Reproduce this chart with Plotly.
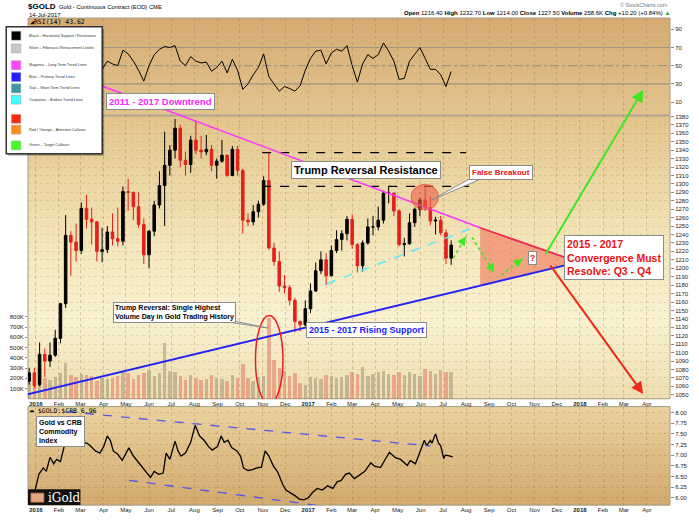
import plotly.graph_objects as go
import pandas as pd

# ---------------- data (weekly) ----------------
week_dates = pd.date_range("2015-12-23", periods=82, freq="7D")

price_open = [1066, 1076, 1062, 1098, 1090, 1097, 1117, 1158, 1239, 1231,
              1221, 1271, 1258, 1255, 1220, 1222, 1243, 1235, 1232, 1291,
              1290, 1273, 1252, 1216, 1244, 1275, 1298, 1322, 1340, 1366,
              1328, 1323, 1352, 1340, 1338, 1341, 1322, 1327, 1334, 1310,
              1341, 1316, 1257, 1255, 1267, 1276, 1304, 1224, 1208, 1179,
              1177, 1162, 1137, 1133, 1152, 1173, 1197, 1210, 1191, 1221,
              1234, 1241, 1258, 1228, 1203, 1230, 1249, 1249, 1257, 1289,
              1289, 1268, 1228, 1229, 1254, 1270, 1281, 1272, 1256, 1257,
              1242, 1212]
price_high = [1082, 1082, 1112, 1105, 1112, 1127, 1159, 1263, 1244, 1253,
              1278, 1287, 1272, 1256, 1248, 1250, 1265, 1272, 1297, 1306,
              1291, 1290, 1259, 1245, 1280, 1315, 1362, 1346, 1377, 1370,
              1338, 1357, 1375, 1357, 1358, 1346, 1330, 1352, 1335, 1345,
              1345, 1318, 1265, 1275, 1280, 1309, 1338, 1230, 1220, 1192,
              1180, 1165, 1138, 1162, 1182, 1207, 1220, 1218, 1227, 1245,
              1245, 1262, 1264, 1230, 1233, 1259, 1262, 1273, 1292, 1297,
              1290, 1270, 1236, 1265, 1272, 1284, 1298, 1285, 1261, 1262,
              1246, 1233]
price_low = [1062, 1058, 1060, 1071, 1083, 1095, 1111, 1153, 1191, 1208,
             1217, 1247, 1228, 1208, 1207, 1218, 1227, 1226, 1227, 1268,
             1257, 1248, 1205, 1200, 1238, 1271, 1250, 1310, 1330, 1320,
             1310, 1313, 1335, 1330, 1334, 1315, 1306, 1325, 1308, 1309,
             1310, 1241, 1250, 1251, 1260, 1274, 1222, 1203, 1172, 1170,
             1156, 1124, 1125, 1131, 1147, 1172, 1193, 1180, 1191, 1218,
             1221, 1233, 1223, 1195, 1196, 1228, 1239, 1245, 1253, 1277,
             1262, 1226, 1214, 1228, 1249, 1262, 1268, 1251, 1240, 1239,
             1205, 1204]
price_close = [1076, 1061, 1098, 1090, 1097, 1117, 1158, 1239, 1231, 1221,
               1271, 1258, 1255, 1220, 1222, 1243, 1235, 1232, 1291, 1290,
               1273, 1252, 1216, 1244, 1275, 1298, 1322, 1340, 1366, 1328,
               1323, 1352, 1340, 1338, 1341, 1322, 1327, 1334, 1310, 1341,
               1316, 1257, 1255, 1267, 1276, 1304, 1224, 1208, 1179, 1177,
               1162, 1137, 1133, 1152, 1173, 1197, 1210, 1191, 1221, 1234,
               1241, 1258, 1228, 1203, 1230, 1249, 1249, 1257, 1289, 1289,
               1268, 1228, 1229, 1254, 1270, 1281, 1272, 1256, 1257, 1242,
               1212, 1227.5]
rsi14 = [45, 38, 62, 55, 58, 63, 72, 80, 64, 57,
         66, 62, 58, 44, 46, 55, 52, 50, 67, 63,
         55, 45, 33, 50, 62, 68, 71, 70, 72, 55,
         50, 60, 55, 53, 54, 44, 48, 55, 42, 57,
         45, 24, 30, 40, 48, 63, 38, 30, 22, 27,
         25, 22, 28, 45, 58, 66, 67, 52, 64, 68,
         66, 72, 50, 32, 52, 62, 58, 62, 75, 66,
         55, 35, 36, 55, 62, 70, 58, 46, 46, 40,
         27, 43.62]
volume_k = [150, 120, 220, 200, 180, 210, 250, 350, 230, 210,
            240, 230, 220, 170, 200, 190, 200, 220, 260, 250,
            190, 230, 250, 280, 220, 250, 540, 270, 260, 220,
            180, 230, 200, 180, 190, 230, 200, 190, 170, 230,
            200, 340, 200, 170, 210, 220, 790, 380, 300, 270,
            220, 250, 150, 130, 210, 200, 190, 230, 220, 200,
            210, 230, 260, 240, 310, 220, 240, 260, 270, 240,
            230, 260, 230, 260, 240, 220, 290, 270, 240, 280,
            260, 259]

ratio_dates = ["2015-12-31", "2016-01-05", "2016-01-11", "2016-01-15", "2016-01-20",
               "2016-01-25", "2016-01-29", "2016-02-03", "2016-02-08", "2016-02-11",
               "2016-02-17", "2016-02-25", "2016-03-04", "2016-03-10", "2016-03-14",
               "2016-03-21", "2016-03-27", "2016-04-01", "2016-04-06", "2016-04-10",
               "2016-04-14", "2016-04-20", "2016-04-26", "2016-05-01", "2016-05-05",
               "2016-05-11", "2016-05-18", "2016-05-24", "2016-05-30", "2016-06-03",
               "2016-06-08", "2016-06-14", "2016-06-20", "2016-06-24", "2016-06-29",
               "2016-07-06", "2016-07-10", "2016-07-14", "2016-07-20", "2016-07-27",
               "2016-08-02", "2016-08-08", "2016-08-14", "2016-08-20", "2016-08-25",
               "2016-09-01", "2016-09-06", "2016-09-10", "2016-09-15", "2016-09-20",
               "2016-09-27", "2016-10-02", "2016-10-06", "2016-10-12", "2016-10-18",
               "2016-10-24", "2016-10-30", "2016-11-04", "2016-11-09", "2016-11-15",
               "2016-11-21", "2016-11-28", "2016-12-02", "2016-12-08", "2016-12-14",
               "2016-12-20", "2016-12-26", "2017-01-01", "2017-01-07", "2017-01-13",
               "2017-01-20", "2017-01-27", "2017-02-03", "2017-02-09", "2017-02-14",
               "2017-02-20", "2017-02-25", "2017-03-04", "2017-03-10", "2017-03-18",
               "2017-03-26", "2017-03-31", "2017-04-08", "2017-04-14", "2017-04-20",
               "2017-04-28", "2017-05-05", "2017-05-14", "2017-05-18", "2017-05-25",
               "2017-05-29", "2017-06-06", "2017-06-09", "2017-06-14", "2017-06-16",
               "2017-06-21", "2017-06-25", "2017-06-28", "2017-07-02", "2017-07-04",
               "2017-07-08", "2017-07-14"]
ratio_vals = [6.18, 6.55, 6.70, 6.62, 6.95,
              6.80, 6.90, 6.85, 7.20, 7.55,
              7.35, 7.40, 7.30, 7.28, 7.22,
              7.10, 7.05, 7.20, 7.45, 7.35,
              7.10, 7.02, 6.88, 7.05, 7.17,
              6.98, 6.82, 6.70, 6.55, 6.48,
              6.62, 6.55, 6.58, 7.05, 6.90,
              7.33, 7.10, 6.98, 7.05, 7.30,
              7.70, 7.45, 7.35, 7.20, 7.12,
              7.20, 7.45, 7.30, 7.35, 7.18,
              7.10, 6.98, 6.70, 6.64, 6.66,
              6.70, 6.72, 7.10, 6.98, 6.75,
              6.60, 6.30, 6.18, 6.12, 6.05,
              5.97, 5.95, 6.00, 6.13, 6.22,
              6.18, 6.28, 6.22, 6.38, 6.40,
              6.55, 6.58, 6.45, 6.52, 6.62,
              6.82, 6.74, 6.71, 6.88, 7.07,
              6.94, 6.90, 6.76, 6.87, 6.80,
              6.99, 7.35, 7.22, 7.35, 7.28,
              7.50, 7.28, 7.22, 6.92, 7.00,
              6.99, 6.96]

# ticks
month_ticks = pd.date_range("2016-01-01", "2018-04-01", freq="MS")
month_labels = [("<b>%d</b>" % d.year) if d.month == 1 else d.strftime("%b") for d in month_ticks]
price_ticks = list(range(1050, 1390, 10))
rsi_ticks = [10, 30, 50, 70, 90]
ratio_ticks = [6.00, 6.25, 6.50, 6.75, 7.00, 7.25, 7.50, 7.75, 8.00]
vol_ticks = [100000, 200000, 300000, 400000, 500000, 600000, 700000, 800000]
vol_labels = ["100K", "200K", "300K", "400K", "500K", "600K", "700K", "800K"]

# drawn trend lines / callouts (data coordinates)
downtrend_dates = ["2016-03-30", "2017-08-20"]
downtrend_prices = [1416, 1248]
apex_date, apex_price = "2017-12-30", 1207.3
support_dates = ["2015-12-01", "2017-12-30"]
support_prices = [1046.3, 1207.3]
triangle_dates = ["2017-08-20", "2017-12-30", "2017-08-20", "2017-08-20"]
triangle_prices = [1248, 1207.3, 1179.3, 1248]
broken_dates = ["2017-01-26", "2017-08-14"]
broken_prices = [1181.6, 1249.3]
resist_hi_dates, resist_hi = ["2016-10-31", "2017-08-01"], 1337
resist_lo_dates, resist_lo = ["2016-10-31", "2017-08-10"], 1297
breakout_dates, breakout_prices = ["2017-05-19", "2017-06-25"], [1269.2, 1299.5]
volspike_dates, volspike_prices = ["2016-10-22", "2016-11-28"], [1039, 1144]
small_arrows = [(("2017-07-15", 1212.3), ("2017-08-01", 1237.6)),
                (("2017-08-09", 1236.8), ("2017-09-08", 1195.0)),
                (("2017-09-17", 1191.8), ("2017-10-16", 1211.2))]
bull_arrow = (("2017-11-15", 1215.5), ("2018-03-27", 1411.5))
bear_arrow = (("2017-11-21", 1205.0), ("2018-03-27", 1051.0))
ratio_upper_dates, ratio_upper = ["2016-02-12", "2017-06-14"], [8.02, 7.215]
ratio_lower_dates, ratio_lower = ["2016-05-05", "2017-04-09"], [6.41, 5.62]

# ---------------- layout helpers ----------------
W, H = 699, 523
ML, MR, MT, MB = 25, 25, 18, 10
PW, PH = W - ML - MR, H - MT - MB
FONT = "Liberation Sans, Arial, sans-serif"


def px(x):
    return (x - ML) / PW


def py(y):
    return (MT + PH - y) / PH


fig = go.Figure()

# volume (behind price)
vol_colors = ["rgba(160,148,118,0.55)" if c >= o else "rgba(228,118,98,0.55)"
              for o, c in zip(price_open, price_close)]
fig.add_trace(go.Bar(x=week_dates, y=[v * 1000 for v in volume_k], marker_color=vol_colors,
                     marker_line_width=0, width=4.6 * 86400000, xaxis="x", yaxis="y"))

# price candles
fig.add_trace(go.Candlestick(x=week_dates, open=price_open, high=price_high, low=price_low,
                             close=price_close, xaxis="x", yaxis="y2", whiskerwidth=0,
                             increasing=dict(line=dict(color="black", width=1), fillcolor="black"),
                             decreasing=dict(line=dict(color="#e3201b", width=1), fillcolor="#e3201b")))

# convergence triangle
fig.add_trace(go.Scatter(x=triangle_dates, y=triangle_prices, mode="lines", fill="toself",
                         fillcolor="rgba(240,105,80,0.55)", line=dict(width=0),
                         xaxis="x", yaxis="y2", hoverinfo="skip"))

# RSI
fig.add_trace(go.Scatter(x=week_dates, y=rsi14, mode="lines", line=dict(color="black", width=1),
                         xaxis="x2", yaxis="y3"))

# Gold : CRB ratio
fig.add_trace(go.Scatter(x=ratio_dates, y=ratio_vals, mode="lines", line=dict(color="black", width=1.3),
                         xaxis="x3", yaxis="y4"))

# ---------------- backgrounds ----------------


def hex2rgb(h):
    h = h.lstrip("#")
    return tuple(int(h[i:i + 2], 16) for i in (0, 2, 4))


def gradient(y_top, y_bot, stops, n=36):
    for i in range(n):
        f = (i + 0.5) / n
        for (f0, c0), (f1, c1) in zip(stops[:-1], stops[1:]):
            if f0 <= f <= f1:
                t = (f - f0) / (f1 - f0) if f1 > f0 else 0
                a, b = hex2rgb(c0), hex2rgb(c1)
                col = "rgb(%d,%d,%d)" % tuple(round(a[k] + (b[k] - a[k]) * t) for k in range(3))
                break
        ya = y_top + (y_bot - y_top) * i / n
        yb = y_top + (y_bot - y_top) * (i + 1) / n + 0.6
        fig.add_shape(type="rect", xref="paper", yref="paper", x0=0, x1=1, y0=py(yb), y1=py(ya),
                      fillcolor=col, line_width=0, layer="below")


gradient(18, 117, [(0, "#d5ab72"), (1, "#e3c48d")])
gradient(117, 405, [(0, "#e2c48b"), (0.45, "#f4e6ba"), (0.72, "#f9f1d0"), (1, "#efdeb0")])
gradient(413, 513, [(0, "#ead29e"), (1, "#d2a96d")])

# panel borders
for (yt, yb) in [(18, 117), (117, 405), (413, 513)]:
    fig.add_shape(type="rect", xref="paper", yref="paper", x0=0, x1=1, y0=py(yb), y1=py(yt),
                  line=dict(color="#a59d88", width=1), layer="below")
fig.add_shape(type="line", xref="paper", yref="paper", x0=0, x1=1, y0=py(117), y1=py(117),
              line=dict(color="#b3ab98", width=2), layer="below")

# RSI levels
for lvl, dash in [(70, "solid"), (30, "solid"), (50, "dashdot")]:
    fig.add_shape(type="line", xref="paper", yref="y3", x0=0, x1=1, y0=lvl, y1=lvl,
                  line=dict(color="#a09682", width=1.2, dash=dash), layer="below")

# ---------------- trend lines & callouts ----------------
fig.add_shape(type="line", xref="x", yref="y2", x0=resist_hi_dates[0], x1=resist_hi_dates[1],
              y0=resist_hi, y1=resist_hi, line=dict(color="black", width=1.2, dash="dash"))
fig.add_shape(type="line", xref="x", yref="y2", x0=resist_lo_dates[0], x1=resist_lo_dates[1],
              y0=resist_lo, y1=resist_lo, line=dict(color="black", width=1.2, dash="dash"))
fig.add_shape(type="line", xref="x", yref="y2", x0=downtrend_dates[0], x1=downtrend_dates[1],
              y0=downtrend_prices[0], y1=downtrend_prices[1], line=dict(color="#ff33ff", width=1.6))
fig.add_shape(type="line", xref="x", yref="y2", x0=downtrend_dates[1], x1=apex_date,
              y0=downtrend_prices[1], y1=apex_price, line=dict(color="#ec2a52", width=1.8))
fig.add_shape(type="line", xref="x", yref="y2", x0=support_dates[0], x1=support_dates[1],
              y0=support_prices[0], y1=support_prices[1], line=dict(color="#2323f5", width=2))
fig.add_shape(type="line", xref="x", yref="y2", x0=broken_dates[0], x1=broken_dates[1],
              y0=broken_prices[0], y1=broken_prices[1], line=dict(color="#55ecff", width=1.5, dash="dash"))
fig.add_shape(type="circle", xref="x", yref="y2", x0=breakout_dates[0], x1=breakout_dates[1],
              y0=breakout_prices[0], y1=breakout_prices[1], fillcolor="rgba(236,92,70,0.6)",
              line=dict(color="rgba(230,80,60,0.7)", width=1))
fig.add_shape(type="circle", xref="x", yref="y2", x0=volspike_dates[0], x1=volspike_dates[1],
              y0=volspike_prices[0], y1=volspike_prices[1], line=dict(color="#ee1c1c", width=1.5))

# ratio channel lines
fig.add_shape(type="line", xref="x3", yref="y4", x0=ratio_upper_dates[0], x1=ratio_upper_dates[1],
              y0=ratio_upper[0], y1=ratio_upper[1], line=dict(color="#5555ee", width=1.3, dash="dash"))
fig.add_shape(type="line", xref="x3", yref="y4", x0=ratio_lower_dates[0], x1=ratio_lower_dates[1],
              y0=ratio_lower[0], y1=ratio_lower[1], line=dict(color="#5555ee", width=1.3, dash="dash"))

GREEN = "#3fe81e"
for (d0, p0), (d1, p1) in small_arrows:
    fig.add_shape(type="line", xref="x", yref="y2", x0=d0, x1=d1, y0=p0, y1=p1,
                  line=dict(color=GREEN, width=1.6, dash="dot"))
    t0, t1 = pd.Timestamp(d0), pd.Timestamp(d1)
    tail_d = t1 - (t1 - t0) * 0.3
    tail_p = p1 - (p1 - p0) * 0.3
    fig.add_annotation(x=d1, y=p1, ax=tail_d.strftime("%Y-%m-%d"), ay=tail_p, xref="x", yref="y2",
                       axref="x", ayref="y2", showarrow=True, arrowhead=2, arrowsize=1.1,
                       arrowwidth=1.6, arrowcolor=GREEN, text="")

for ((d0, p0), (d1, p1)), col in [(bull_arrow, GREEN), (bear_arrow, "#ee2a1a")]:
    fig.add_annotation(x=d1, y=p1, ax=d0, ay=p0, xref="x", yref="y2", axref="x", ayref="y2",
                       showarrow=True, arrowhead=2, arrowsize=1.2, arrowwidth=2, arrowcolor=col, text="")


def path(points):
    s = "M " + " L ".join("%f,%f" % (px(x), py(y)) for x, y in points) + " Z"
    return s


# speech-bubble pointers
fig.add_shape(type="path", xref="paper", yref="paper", path=path([(214, 325), (267, 333), (228, 325)]),
              fillcolor="white", line=dict(color="#8c8c8c", width=1))
fig.add_shape(type="path", xref="paper", yref="paper", path=path([(476, 179), (433, 203), (489, 179)]),
              fillcolor="white", line=dict(color="#8c8c8c", width=1))


def box(text, cx, cy, size, color, align="center", pad=2):
    fig.add_annotation(x=px(cx), y=py(cy), xref="paper", yref="paper", text=text, showarrow=False,
                       font=dict(size=size, color=color, family=FONT), bgcolor="white",
                       bordercolor="#8c8c8c", borderwidth=1, borderpad=pad, align=align,
                       xanchor="center", yanchor="middle")


def label(text, x, y, size, color="black", xanchor="left", family=FONT):
    fig.add_annotation(x=px(x), y=py(y), xref="paper", yref="paper", text=text, showarrow=False,
                       font=dict(size=size, color=color, family=family), xanchor=xanchor,
                       yanchor="middle", borderpad=0)


box("<b>2011 - 2017 Downtrend</b>", 158.5, 102.5, 9.5, "#ff22ff")
box("<b>Trump Reversal Resistance</b>", 367, 173, 11, "black")
box("<b>False Breakout</b>", 503.5, 175, 8, "#ee1111")
box("<b>Trump Reversal: Single Highest<br>Volume Day in Gold Trading History</b>", 173.5, 317, 7,
    "black", align="left", pad=1)
box("<b>2015 - 2017 Rising Support</b>", 367, 335, 9, "#1a1aff")
box("<b>2015 - 2017<br>Convergence Must<br>Resolve: Q3 - Q4</b>", 617.5, 261.5, 10.5, "#ee1111",
    align="left", pad=2)
box("<b>?</b>", 535.5, 261.5, 8.5, "#ee1111", pad=1)
box("<b>Gold vs CRB<br>Commodity<br>Index</b>", 58, 438.5, 7, "black", align="left", pad=2)

# iGold logo
fig.add_shape(type="rect", xref="paper", yref="paper", x0=px(25), x1=px(78), y0=py(513), y1=py(497),
              fillcolor="#111111", line_width=0)
fig.add_shape(type="rect", xref="paper", yref="paper", x0=px(28), x1=px(41), y0=py(510), y1=py(501),
              fillcolor="#e7a583", line=dict(color="#c77a5a", width=1))
label("iGold", 44, 505.5, 12, "white", family="DejaVu Serif, serif")

# header
label("<b>$GOLD</b>", 24, 6, 8)
label("Gold - Continuous Contract (EOD) CME", 55, 6.5, 5.8)
label("14-Jul-2017", 25, 14.5, 6)
label("© StockCharts.com", 673, 4.5, 5.5, "#777777", xanchor="right")
label("<b>Open</b> 1216.40 <b>High</b> 1232.70 <b>Low</b> 1214.00 <b>Close</b> 1227.50 "
      "<b>Volume</b> 258.6K <b>Chg</b> +10.20 (+0.84%) <span style='color:#22aa22'>▲</span>",
      675, 13, 6, xanchor="right")
label("◢RSI(14) 43.62", 26, 22, 6.5, family="DejaVu Sans Mono, monospace")
label("▬ $GOLD:$CRB 6.96", 26, 417, 6.5, family="DejaVu Sans Mono, monospace")

# legend panel
fig.add_shape(type="rect", xref="paper", yref="paper", x0=px(5), x1=px(102), y0=py(158), y1=py(29),
              fillcolor="rgba(0,0,0,0.3)", line_width=0)
fig.add_shape(type="rect", xref="paper", yref="paper", x0=px(3), x1=px(100), y0=py(156), y1=py(27),
              fillcolor="white", line=dict(color="#333333", width=1.5))
legend_items = [("#000000", 36, "Black – Horizontal Support / Resistance"),
                ("#c8c8c8", 49, "Silver – Fibonacci Retracement Levels"),
                ("#ff44ff", 66, "Magenta – Long Term Trend Lines"),
                ("#2020ff", 78, "Blue – Primary Trend Lines"),
                ("#3c98a6", 89.5, "Teal – Short Term Trend Lines"),
                ("#44ffff", 101, "Turquoise – Broken Trend Lines"),
                ("#ff2a10", 120.5, ""),
                ("#ff8c1a", 131.5, "Red / Orange – Attention Callouts"),
                ("#44ff22", 147.5, "Green – Target Callouts")]
for col, yc, txt in legend_items:
    fig.add_shape(type="rect", xref="paper", yref="paper", x0=px(8.3), x1=px(17.7),
                  y0=py(yc + 4.5), y1=py(yc - 4.5), fillcolor=col, line=dict(color="#999999", width=0.5))
    if txt:
        label(txt, 24.5, yc, 3.8, "#333333")

# ---------------- axes ----------------
x_range = ["2015-12-21 10:00", "2018-05-02"]
grid = "rgba(150,120,70,0.35)"
tickfont = dict(size=6, color="#222222", family=FONT)

fig.update_layout(
    width=W, height=H, margin=dict(l=ML, r=MR, t=MT, b=MB),
    paper_bgcolor="white", plot_bgcolor="rgba(0,0,0,0)", showlegend=False, bargap=0,
    xaxis=dict(domain=[0, 1], anchor="y", type="date", range=x_range, tickvals=month_ticks,
               ticktext=month_labels, tickfont=tickfont, showgrid=True, gridcolor=grid,
               griddash="dot", gridwidth=1, ticks="", ticklabelstandoff=0,
               rangeslider=dict(visible=False), showline=False, zeroline=False),
    xaxis2=dict(domain=[0, 1], anchor="y3", type="date", matches="x", showticklabels=False,
                showgrid=False, ticks="", showline=False, zeroline=False),
    xaxis3=dict(domain=[0, 1], anchor="y4", type="date", matches="x", tickvals=month_ticks,
                ticktext=month_labels, tickfont=tickfont, showgrid=True, gridcolor=grid,
                griddash="dot", ticks="", showline=False, zeroline=False),
    yaxis=dict(domain=[py(405), 1], range=[0, 3721000], side="left", tickvals=vol_ticks,
               ticktext=vol_labels, tickfont=tickfont, showgrid=False, zeroline=False,
               ticks="outside", ticklen=2, tickcolor="#888888", showline=False),
    yaxis2=dict(overlaying="y", side="right", range=[1045.3, 1496.7], tickvals=price_ticks,
                tickfont=tickfont, showgrid=True, gridcolor="rgba(150,120,70,0.18)", griddash="dot",
                zeroline=False, ticks="outside", ticklen=3, tickcolor="#888888", showline=False),
    yaxis3=dict(domain=[py(117), 1], range=[-4.6, 102.4], side="right", tickvals=rsi_ticks,
                tickfont=tickfont, showgrid=False, zeroline=False, ticks="outside", ticklen=3,
                tickcolor="#888888", showline=False),
    yaxis4=dict(domain=[0, py(413)], range=[5.83, 8.14], side="right", tickvals=ratio_ticks,
                ticktext=["%.2f" % v for v in ratio_ticks], tickfont=tickfont, showgrid=True,
                gridcolor="rgba(150,120,70,0.25)", griddash="dot", zeroline=False,
                ticks="outside", ticklen=3, tickcolor="#888888", showline=False),
)

fig.write_html("out.html")
